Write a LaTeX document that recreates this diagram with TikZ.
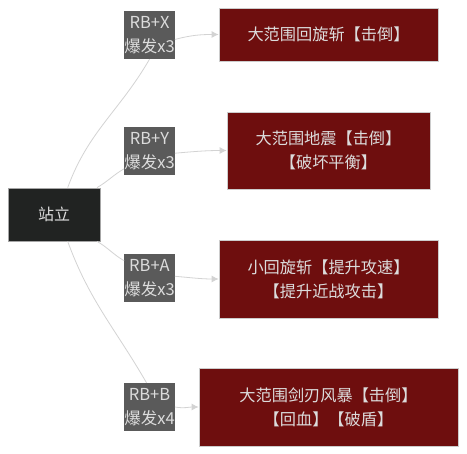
\documentclass[tikz,border=0pt]{standalone}
\usepackage{fontspec}
\usepackage{xcolor}
\usetikzlibrary{arrows.meta}
\newfontfamily\cjk{Noto Sans CJK SC}
\definecolor{skillred}{HTML}{6E0E0E}
\definecolor{keygray}{HTML}{5A5A5A}
\definecolor{standdark}{HTML}{212322}
\definecolor{linkgray}{HTML}{D3D3D3}
\definecolor{txtgray}{HTML}{DCDCDC}

\begin{document}
\begin{tikzpicture}[x=1pt,y=1pt,
  stand/.style={rectangle,fill=standdark,draw=gray!70,line width=0.8pt,text=txtgray,font=\cjk\fontsize{16}{20}\selectfont,minimum width=92pt,minimum height=53pt},
  keybox/.style={rectangle,fill=keygray,text=txtgray,inner sep=0pt,align=center,minimum width=49pt,minimum height=48pt,font=\cjk\fontsize{16.5}{24}\selectfont},
  skill/.style={rectangle,fill=skillred,draw=gray!40,line width=0.8pt,text=txtgray,align=center,font=\cjk\fontsize{16.2}{24}\selectfont},
  link/.style={draw=linkgray,line width=0.8pt},
  linkarrow/.style={link,-{Latex[length=7pt,width=7pt]}}]
            \useasboundingbox (0,0) rectangle (467,-454);

            \node (zl) at (54,-214.5) [stand] {站立};

            \node (rx) at (149.5,-35) [keybox] {RB+X\\爆发x3};
            \node (ry) at (149.5,-151) [keybox] {RB+Y\\爆发x3};
            \node (ra) at (149.5,-278.5) [keybox] {RB+A\\爆发x3};
            \node (rb) at (149.5,-407) [keybox] {RB+B\\爆发x4};

            \node (s1) at (328.5,-34.5) [skill,minimum width=219pt,minimum height=53pt] {大范围回旋斩【击倒】};
            \node (s2) at (328.5,-150.5) [skill,minimum width=203pt,minimum height=77pt] {大范围地震【击倒】\\【破坏平衡】};
            \node (s3) at (328.5,-279) [skill,minimum width=219pt,minimum height=78pt] {小回旋斩【提升攻速】\\【提升近战攻击】};
            \node (s4) at (328.5,-407) [skill,minimum width=259pt,minimum height=78pt] {大范围剑刃风暴【击倒】\\【回血】【破盾】};

            \draw[link] (zl.63) to[out=70,in=-120] (rx.south);
            \draw[link] (zl.32) to[out=30,in=-150] (ry.215);
            \draw[link] (zl.-32) to[out=-30,in=150] (ra.145);
            \draw[link] (zl.-63) to[out=-70,in=120] (rb.97);

            \draw[linkarrow] (rx.-10) to[out=15,in=180] (s1.west);
            \draw[linkarrow] (ry.-5) to[out=5,in=180] (s2.west);
            \draw[linkarrow] (ra.5) to[out=-5,in=180] (s3.west);
            \draw[linkarrow] (rb.0) to[out=-10,in=180] (s4.west);

        \end{tikzpicture}
\end{document}
